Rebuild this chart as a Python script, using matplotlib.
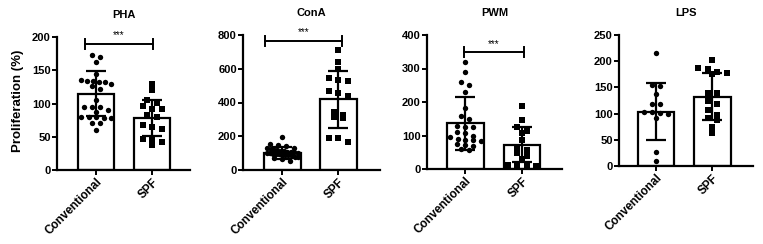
import numpy as np
import matplotlib
matplotlib.use("Agg")
import matplotlib.pyplot as plt

plt.rcParams['font.family'] = ['Liberation Sans', 'DejaVu Sans']
plt.rcParams['font.weight'] = 'bold'

# ---------------- data ----------------
groups = ["Conventional", "SPF"]
titles = ["PHA", "ConA", "PWM", "LPS"]

pha_conv = [173, 170, 162, 145, 134, 134, 133, 133, 135, 130, 127, 122, 106,
            95, 95, 94, 90, 87, 79, 79, 78, 78, 79, 70, 71, 60]
pha_spf = [129, 120, 105, 101, 96, 92, 92, 82, 79, 67, 64, 61, 47, 45, 42, 37]

cona_conv = [196, 156, 148, 140, 132, 128, 124, 120, 116, 112, 110, 108, 106,
             104, 102, 100, 98, 96, 94, 92, 90, 88, 86, 84, 80, 76, 72, 68, 56]
cona_spf = [712, 642, 596, 546, 532, 530, 466, 456, 440, 346, 324, 312, 306,
            192, 190, 164]

pwm_conv = [320, 290, 260, 252, 229, 182, 157, 148, 128, 126, 124, 110, 106,
            98, 96, 90, 88, 86, 84, 75, 73, 70, 60, 57]
pwm_spf = [189, 146, 124, 113, 106, 86, 64, 56, 47, 40, 30, 12, 10, 10, 8]

lps_conv = [216, 154, 152, 138, 118, 118, 104, 103, 101, 99, 92, 27, 10]
lps_spf = [203, 187, 185, 179, 178, 176, 139, 139, 125, 119, 106, 97, 92, 87,
           75, 63]

# bar heights (mean) and error bars (SD)
means = [[115, 78.5], [100, 418], [136, 72], [104, 132]]
sds = [[34.5, 27.5], [35, 167], [78, 52], [54, 45]]

yticks = [[0, 50, 100, 150, 200], [0, 200, 400, 600, 800],
          [0, 100, 200, 300, 400], [0, 50, 100, 150, 200, 250]]

sig_labels = ["***", "***", "***", None]

points = [[pha_conv, pha_spf], [cona_conv, cona_spf],
          [pwm_conv, pwm_spf], [lps_conv, lps_spf]]

# ---------------- layout ----------------
W, H = 763, 244
DPI = 100
# axes rects in pixels: left, right, top, bottom
rects = [(57, 190, 37, 170), (243, 380, 35, 170),
         (427, 562, 35, 169), (619, 753, 35, 166)]
xlims = [(-0.70, 1.68), (-0.705, 1.745), (-0.68, 1.71), (-0.655, 1.72)]
brackets = [(-0.196, 1.012, 190), (-0.31, 1.07, 766), (-0.02, 1.03, 348), None]
BAR_W = 0.65

fig = plt.figure(figsize=(W / DPI, H / DPI), dpi=DPI)


def row_layout(vals, ppu_x, ppu_y, row_h, sp_max, bar_px):
    """GraphPad-like scatter: points grouped in horizontal rows."""
    vals = np.asarray(vals, dtype=float)
    order = np.argsort(-vals, kind='stable')
    offs = np.zeros(len(vals))
    rows = []
    cur = []
    start = None
    for i in order:
        y = vals[i] * ppu_y
        if start is None or start - y <= row_h:
            if start is None:
                start = y
            cur.append(i)
        else:
            rows.append(cur)
            cur = [i]
            start = y
    if cur:
        rows.append(cur)
    for row in rows:
        n = len(row)
        if n == 1:
            continue
        sp = min(sp_max, (bar_px - 6) / (n - 1))
        for j, i in enumerate(row):
            offs[i] = (j - (n - 1) / 2) * sp / ppu_x
    return offs


for k in range(4):
    l, r, t, b = rects[k]
    ax = fig.add_axes([l / W, (H - b) / H, (r - l) / W, (b - t) / H])
    ymax = yticks[k][-1]
    ax.set_xlim(*xlims[k])
    ax.set_ylim(0, ymax)
    ppu_x = (r - l) / (xlims[k][1] - xlims[k][0])
    ppu_y = (b - t) / ymax
    bar_px = BAR_W * ppu_x
    xs = np.arange(2)
    ax.bar(xs, means[k], width=BAR_W, color='white', edgecolor='black',
           linewidth=1.6, zorder=1)
    for g in range(2):
        vals = np.array(points[k][g], dtype=float)
        if g == 0:
            offs = row_layout(vals, ppu_x, ppu_y, 4.5, 8.0, bar_px)
        else:
            offs = row_layout(vals, ppu_x, ppu_y, 5.5, 9.5, bar_px)
        ax.scatter(xs[g] + offs, vals, s=15 if g == 0 else 14,
                   marker='o' if g == 0 else 's', color='black',
                   linewidths=0, zorder=2, clip_on=False)
    ax.errorbar(xs, means[k], yerr=sds[k], fmt='none', ecolor='black',
                elinewidth=1.6, capsize=7, capthick=1.6, zorder=3)
    # spines
    for s in ['top', 'right']:
        ax.spines[s].set_visible(False)
    for s in ['left', 'bottom']:
        ax.spines[s].set_linewidth(1.6)
    ax.set_yticks(yticks[k])
    ax.set_yticklabels([str(v) for v in yticks[k]], fontsize=8,
                       fontweight='bold')
    ax.set_xticks(xs)
    ax.set_xticklabels(groups, rotation=45, ha='right',
                       rotation_mode='anchor', fontsize=8.5, fontweight='bold')
    ax.tick_params(axis='both', width=1.4, length=3.5, pad=1)
    ax.set_title(titles[k], fontsize=8, fontweight='bold', pad=14)
    if brackets[k] is not None:
        x0, x1, yb = brackets[k]
        ax.plot([x0, x1], [yb, yb], color='black', lw=1.4, clip_on=False)
        h = 5 / ppu_y
        for xx in (x0, x1):
            ax.plot([xx, xx], [yb - h, yb + h], color='black', lw=1.4,
                    clip_on=False)
        ax.text((x0 + x1) / 2, yb + 3.5 / ppu_y, sig_labels[k], ha='center',
                va='bottom', fontsize=7, fontweight='normal')

fig.text(18 / W, 1 - 101 / H, "Proliferation (%)", rotation=90,
         ha='center', va='center', fontsize=9.5, fontweight='bold')

fig.savefig("out.png", dpi=DPI)
